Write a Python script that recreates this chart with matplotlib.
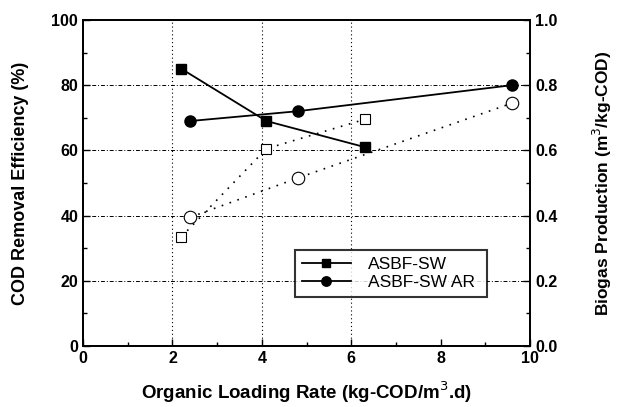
import matplotlib.pyplot as plt
import numpy as np

plt.rcParams['font.family'] = ['Liberation Sans', 'DejaVu Sans']

# COD removal (left axis)
olr_sw = [2.2, 4.1, 6.3]
cod_sw = [85, 69, 61]
olr_swar = [2.4, 4.8, 9.6]
cod_swar = [69, 72, 80]

# Biogas production (right axis)
gas_sw = [0.335, 0.605, 0.695]
gas_swar = [0.395, 0.515, 0.745]

fig = plt.figure(figsize=(6.2, 4.07), dpi=100)
ax = fig.add_axes([0.134, 0.150, 0.721, 0.801])
ax2 = ax.twinx()

ax.plot(olr_sw, cod_sw, '-s', color='black', lw=1.3, ms=7, label='ASBF-SW', zorder=3)
ax.plot(olr_swar, cod_swar, '-o', color='black', lw=1.3, ms=8, label='ASBF-SW AR', zorder=3)

ax2.plot(olr_sw, gas_sw, 's', color='black', mfc='white', ms=7, mew=0.8,
         ls=(0, (1, 4)), lw=1.2)
ax2.plot(olr_swar, gas_swar, 'o', color='black', mfc='white', ms=9, mew=0.8,
         ls=(0, (1, 4)), lw=1.2)

ax.set_xlim(0, 10)
ax.set_ylim(0, 100)
ax2.set_ylim(0, 1.0)
ax.set_xticks(np.arange(0, 11, 2))
ax.set_xticks(np.arange(1, 10, 2), minor=True)
ax.set_yticks(np.arange(0, 101, 20))
ax.set_yticks(np.arange(10, 100, 20), minor=True)
ax2.set_yticks(np.arange(0, 1.01, 0.2))
ax2.set_yticks(np.arange(0.1, 1.0, 0.2), minor=True)
ax2.set_yticklabels(['%.1f' % v for v in np.arange(0, 1.01, 0.2)])

for a in (ax, ax2):
    a.tick_params(which='both', direction='in', labelsize=11.5)
    a.tick_params(which='major', length=5, width=1)
    a.tick_params(which='minor', length=3, width=1)
    for lab in a.get_xticklabels() + a.get_yticklabels():
        lab.set_fontweight('bold')
    for s in a.spines.values():
        s.set_linewidth(1.3)

# grid: dotted verticals, dash-dot horizontals
for xv in [2, 4, 6]:
    ax.axvline(xv, color='black', lw=0.8, ls=(0, (1, 2.5)), zorder=0)
for yv in [20, 40, 60, 80]:
    ax.axhline(yv, color='black', lw=0.7, ls=(0, (4, 2, 1, 2)), zorder=0)

ax.set_xlabel('Organic Loading Rate (kg-COD/m$^3$.d)', fontsize=13.5,
              fontweight='bold', labelpad=10)
ax.set_ylabel('COD Removal Efficiency (%)', fontsize=13, fontweight='bold',
              labelpad=16)
ax2.set_ylabel('Biogas Production (m$^3$/kg-COD)', fontsize=12.5,
               fontweight='bold', labelpad=24)

leg = ax.legend(loc='lower left', bbox_to_anchor=(0.474, 0.150, 0.430, 0.138),
                mode='expand', frameon=True, fancybox=False, fontsize=12.5,
                handlelength=2.8, borderaxespad=0, handletextpad=1.0,
                labelspacing=0.15, markerscale=0.85)
leg.get_frame().set_edgecolor('black')
leg.get_frame().set_linewidth(1.5)
leg.set_zorder(5)

fig.savefig('out.png', dpi=100)
